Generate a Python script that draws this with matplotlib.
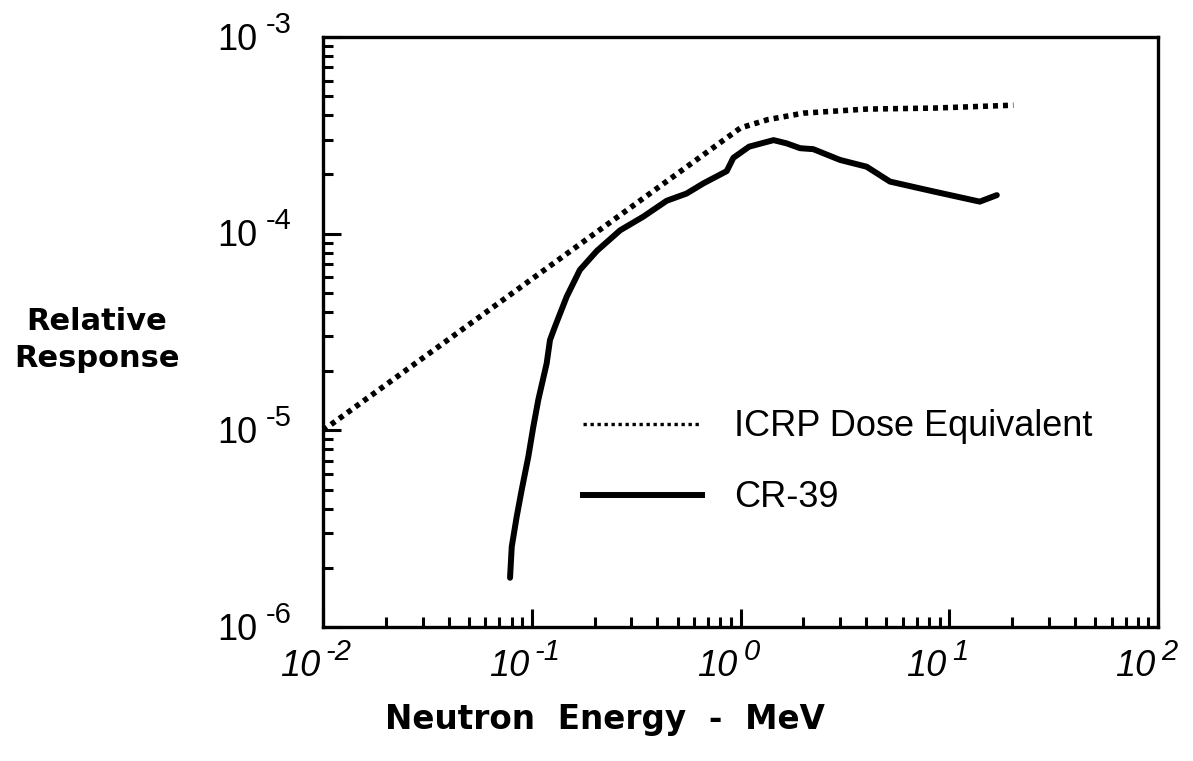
import matplotlib
matplotlib.use("Agg")
import matplotlib.pyplot as plt
from matplotlib.lines import Line2D
from matplotlib.ticker import LogLocator, NullFormatter
from matplotlib.transforms import offset_copy

# ICRP dose equivalent curve
icrp_e = [0.01, 1.0, 1.35, 2.0, 4.0, 8.4, 20.3]
icrp_r = [1.0e-5, 3.45e-4, 3.8e-4, 4.1e-4, 4.3e-4, 4.35e-4, 4.5e-4]

# CR-39 response
cr39_e = [0.0787, 0.0802, 0.0847, 0.0895, 0.0963, 0.1017, 0.1075, 0.1179,
          0.1223, 0.1292, 0.147, 0.170, 0.205, 0.265, 0.342, 0.443, 0.552,
          0.663, 0.859, 0.924, 1.10, 1.44, 1.66, 1.93, 2.23, 3.00, 4.02,
          5.20, 8.39, 14.0, 16.9]
cr39_r = [1.78e-6, 2.56e-6, 3.64e-6, 4.98e-6, 7.35e-6, 1.04e-5, 1.43e-5,
          2.19e-5, 2.88e-5, 3.37e-5, 4.78e-5, 6.54e-5, 8.17e-5, 1.04e-4,
          1.22e-4, 1.47e-4, 1.60e-4, 1.80e-4, 2.08e-4, 2.43e-4, 2.77e-4,
          2.99e-4, 2.88e-4, 2.72e-4, 2.69e-4, 2.37e-4, 2.19e-4, 1.84e-4,
          1.64e-4, 1.455e-4, 1.57e-4]

x_exps = ["-2", "-1", "0", "1", "2"]
y_exps = ["-3", "-4", "-5", "-6"]

plt.rcParams['font.family'] = ['Liberation Sans', 'DejaVu Sans']

fig = plt.figure(figsize=(11.93, 7.61), dpi=100)
ax = fig.add_axes([323 / 1193, 1 - 627 / 761, 835 / 1193, 590 / 761])

ax.plot(icrp_e, icrp_r, color='black', lw=4, linestyle=(0, (0.9, 0.9)),
        dash_capstyle='butt')
ax.plot(cr39_e, cr39_r, color='black', lw=4.3, solid_joinstyle='round',
        solid_capstyle='round')

ax.set_xscale('log')
ax.set_yscale('log')
ax.set_xlim(1e-2, 1e2)
ax.set_ylim(1e-6, 1e-3)

for s in ax.spines.values():
    s.set_linewidth(2.4)

ax.xaxis.set_major_locator(LogLocator(base=10, numticks=10))
ax.xaxis.set_minor_locator(LogLocator(base=10, subs=range(2, 10), numticks=50))
ax.yaxis.set_major_locator(LogLocator(base=10, numticks=10))
ax.yaxis.set_minor_locator(LogLocator(base=10, subs=range(2, 10), numticks=50))
ax.xaxis.set_major_formatter(NullFormatter())
ax.xaxis.set_minor_formatter(NullFormatter())
ax.yaxis.set_major_formatter(NullFormatter())
ax.yaxis.set_minor_formatter(NullFormatter())
ax.tick_params(which='both', direction='in', top=False, right=False, width=2.2, color='black')
ax.tick_params(which='major', length=13)
ax.tick_params(which='minor', length=7)

# tick labels drawn as base + exponent
xt = ax.get_xaxis_transform()
for e in x_exps:
    v = 10.0 ** int(e)
    ax.text(v, 0, "10", fontsize=26, style='italic', ha='right', va='baseline',
            transform=offset_copy(xt, fig=fig, x=-2, y=-35, units='points'))
    ax.text(v, 0, e, fontsize=21, style='italic', ha='left', va='baseline',
            transform=offset_copy(xt, fig=fig, x=2, y=-24, units='points'))

yt = ax.get_yaxis_transform()
for e in y_exps:
    v = 10.0 ** int(e)
    ax.text(0, v, "10", fontsize=26, ha='right', va='baseline',
            transform=offset_copy(yt, fig=fig, x=-47, y=-9, units='points'))
    ax.text(0, v, e, fontsize=21, ha='left', va='baseline',
            transform=offset_copy(yt, fig=fig, x=-41, y=3, units='points'))

fig.text(97 / 1193, 1 - 340 / 761, "Relative\nResponse", fontsize=22,
         fontweight='bold', family='DejaVu Sans', ha='center', va='center',
         linespacing=1.35)
fig.text(605 / 1193, 1 - 720 / 761, "Neutron  Energy  -  MeV", fontsize=23.5,
         fontweight='bold', family='DejaVu Sans', ha='center', va='center')

handles = [Line2D([], [], color='black', lw=2.4, linestyle=(0, (1, 1.1))),
           Line2D([], [], color='black', lw=4.3)]
ax.legend(handles, ["ICRP Dose Equivalent", "CR-39"], frameon=False,
          fontsize=26, loc='center left', bbox_to_anchor=(0.311, 0.279),
          borderpad=0, borderaxespad=0, handlelength=3.3, handletextpad=0.9,
          labelspacing=1.0)

fig.savefig("out.png", dpi=100)
